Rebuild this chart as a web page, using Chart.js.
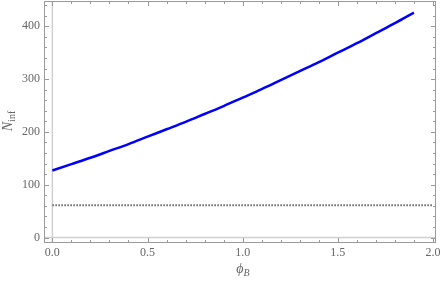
<!DOCTYPE html>
<html>
<head>
<meta charset="utf-8">
<script src="https://cdn.jsdelivr.net/npm/chart.js@4.4.1/dist/chart.umd.min.js"></script>
<style>
  html, body { margin: 0; padding: 0; background: #fff; }
</style>
</head>
<body>
<canvas id="chart" width="442" height="282"></canvas>
<script>
// data
const phiB = [0, 0.1, 0.2, 0.3, 0.4, 0.5, 0.6, 0.7, 0.8, 0.9, 1.0, 1.1, 1.2, 1.3, 1.4, 1.5, 1.6, 1.7, 1.8, 1.9];
const nInf = [127, 139, 151, 164, 177, 191, 205, 219, 234, 249, 265, 281, 298, 315, 332, 350, 368, 387, 406, 426];
const refPhi = [0, 2];
const refN = [61, 61];
const xTicks = [0, 0.5, 1, 1.5, 2];
const yTicks = [0, 100, 200, 300, 400];

const frameGray = '#9a9a9a';
const labelGray = '#666';
const serif = "'Liberation Serif', 'DejaVu Serif', serif";

const framePlugin = {
    id: 'frame',
    beforeDatasetsDraw(chart) {
        const { ctx, chartArea: a, scales: { x, y } } = chart;
        ctx.save();
        ctx.strokeStyle = '#d0d0d0';
        ctx.lineWidth = 1.5;
        const x0 = x.getPixelForValue(0), y0 = y.getPixelForValue(0);
        ctx.beginPath();
        ctx.moveTo(x0, a.top); ctx.lineTo(x0, a.bottom);
        ctx.moveTo(a.left, y0); ctx.lineTo(a.right, y0);
        ctx.stroke();
        ctx.restore();
    },
    afterDraw(chart) {
        const { ctx, chartArea: a, scales: { x, y } } = chart;
        ctx.save();
        ctx.strokeStyle = frameGray;
        ctx.lineWidth = 1;
        ctx.strokeRect(a.left + 0.5, a.top + 0.5, a.right - a.left - 1, a.bottom - a.top - 1);

        ctx.beginPath();
        // x ticks, every 0.1, major every 0.5
        for (let i = 0; i <= 20; i++) {
            const px = Math.round(x.getPixelForValue(i / 10)) + 0.5;
            const len = i % 5 === 0 ? 5 : 3;
            ctx.moveTo(px, a.bottom); ctx.lineTo(px, a.bottom - len);
            ctx.moveTo(px, a.top); ctx.lineTo(px, a.top + len);
        }
        // y ticks, every 20, major every 100
        for (let v = 0; v <= 440; v += 20) {
            const py = Math.round(y.getPixelForValue(v)) + 0.5;
            const len = v % 100 === 0 ? 5 : 3;
            ctx.moveTo(a.left, py); ctx.lineTo(a.left + len, py);
            ctx.moveTo(a.right, py); ctx.lineTo(a.right - len, py);
        }
        ctx.stroke();

        // axis titles
        ctx.fillStyle = labelGray;
        ctx.textBaseline = 'alphabetic';
        // x title: phi_B
        ctx.font = 'italic 14px ' + serif;
        const cx = (a.left + a.right) / 2 + 3;
        const wPhi = ctx.measureText('\u03d5').width;
        ctx.font = 'italic 10px ' + serif;
        const wB = ctx.measureText('B').width;
        let sx = cx - (wPhi + wB) / 2;
        ctx.font = 'italic 14px ' + serif;
        ctx.fillText('\u03d5', sx, 273);
        ctx.font = 'italic 10px ' + serif;
        ctx.fillText('B', sx + wPhi, 276);

        // y title: N_inf, rotated
        ctx.translate(12, 121);
        ctx.rotate(-Math.PI / 2);
        ctx.font = 'italic 14px ' + serif;
        const wN = ctx.measureText('N').width;
        ctx.font = '10px ' + serif;
        const wInf = ctx.measureText('inf').width;
        sx = -(wN + wInf) / 2;
        ctx.font = 'italic 14px ' + serif;
        ctx.fillText('N', sx, 0);
        ctx.font = '10px ' + serif;
        ctx.fillText('inf', sx + wN, 3);
        ctx.restore();
    }
};

const drawChart = () => {
    const option = {
        type: 'line',
        data: {
            datasets: [{
                data: phiB.map((v, i) => ({ x: v, y: nInf[i] })),
                borderColor: '#0000ff',
                borderWidth: 2.5,
                pointRadius: 0,
                cubicInterpolationMode: 'monotone',
                fill: false
            }, {
                data: refPhi.map((v, i) => ({ x: v, y: refN[i] })),
                borderColor: '#666',
                borderWidth: 2,
                borderDash: [1.5, 1.5],
                pointRadius: 0,
                fill: false
            }]
        },
        options: {
            responsive: false,
            animation: false,
            layout: { padding: { top: 1, right: 6, left: 0, bottom: 0 } },
            plugins: { legend: { display: false }, tooltip: { enabled: false } },
            scales: {
                x: {
                    type: 'linear',
                    min: -0.044,
                    max: 2.016,
                    grid: { display: false, drawTicks: false, tickLength: 0 },
                    border: { display: false },
                    afterBuildTicks: s => { s.ticks = xTicks.map(v => ({ value: v })); },
                    afterFit: s => { s.height = 39; s.paddingLeft = 0; s.paddingRight = 0; },
                    ticks: {
                        color: labelGray,
                        font: { family: serif, size: 12 },
                        padding: 3,
                        maxRotation: 0,
                        callback: v => v.toFixed(1)
                    }
                },
                y: {
                    type: 'linear',
                    min: -10.4,
                    max: 448,
                    grid: { display: false, drawTicks: false, tickLength: 0 },
                    border: { display: false },
                    afterBuildTicks: s => { s.ticks = yTicks.map(v => ({ value: v })); },
                    afterFit: s => { s.width = 44; s.paddingTop = 0; s.paddingBottom = 0; },
                    ticks: {
                        color: labelGray,
                        font: { family: serif, size: 12 },
                        padding: 4
                    }
                }
            }
        },
        plugins: [framePlugin]
    };
    const canvas = document.getElementById('chart');
    new Chart(canvas, option);
};

drawChart();
</script>
</body>
</html>
